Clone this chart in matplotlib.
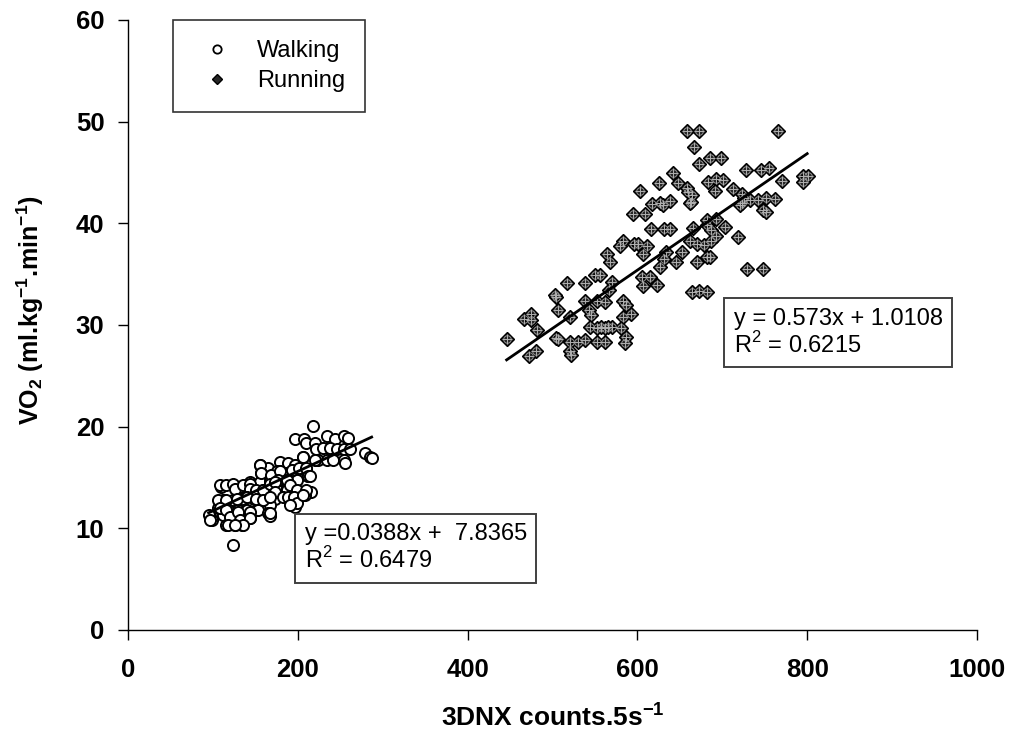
import matplotlib
matplotlib.use("Agg")
import matplotlib.pyplot as plt
from matplotlib.lines import Line2D
import numpy as np

plt.rcParams['font.family'] = ['Liberation Sans', 'DejaVu Sans']
plt.rcParams['mathtext.fontset'] = 'custom'
plt.rcParams['mathtext.rm'] = 'Liberation Sans'
plt.rcParams['mathtext.bf'] = 'Liberation Sans:bold'

# ---------------- data ----------------
walk_x = [218, 197, 207, 210, 220, 234, 244, 254, 259, 222, 230, 238, 246, 254, 261,
          224, 234, 242, 254, 256, 279, 285, 287, 206, 179, 189, 197, 155, 165,
          157, 175, 187, 199, 210, 212, 144, 155, 167, 179, 187, 199,
          110, 124, 132, 144, 159, 175, 187, 195, 216, 189, 199, 208,
          112, 124, 134, 148, 161, 173, 167, 193, 197,
          106, 118, 130, 140, 146, 153, 165, 167, 97, 99, 112, 124, 132, 144,
          116, 126, 134, 124,
          155, 206, 220, 157, 169, 179, 177, 187, 193, 202, 210, 212,
          108, 116, 124, 126, 136, 144, 144, 151, 159, 167, 173, 173, 187, 191, 199, 210, 214,
          106, 116, 128, 140, 151, 159, 167, 183, 189, 195, 199, 191, 206,
          95, 97, 108, 116, 120, 130, 132, 144, 144, 136, 118, 126, 167]
walk_y = [20.1, 18.8, 18.8, 18.4, 18.4, 19.1, 18.8, 19.1, 18.9, 17.8, 17.9, 17.9, 17.8, 17.8, 17.8,
          16.7, 16.7, 16.7, 16.7, 16.4, 17.4, 17.0, 16.9, 17.0, 16.5, 16.4, 16.2, 16.2, 15.9,
          15.4, 15.6, 15.4, 15.7, 15.8, 15.1, 14.6, 14.6, 14.7, 14.7, 14.6, 14.8,
          14.1, 14.3, 14.1, 13.9, 13.8, 13.8, 13.9, 13.8, 13.6, 13.1, 13.0, 13.3,
          12.8, 12.8, 12.9, 12.9, 12.9, 12.9, 12.3, 12.3, 12.1,
          12.0, 11.8, 11.8, 11.8, 11.6, 11.8, 11.5, 11.2, 11.1, 10.8, 11.3, 11.0, 11.0, 11.0,
          10.3, 10.3, 10.3, 8.4,
          16.2, 17.0, 16.7, 15.4, 15.2, 15.6, 14.8, 14.8, 15.7, 15.9, 15.9, 15.1,
          14.3, 14.3, 14.4, 13.9, 14.3, 14.4, 13.9, 13.8, 13.8, 14.4, 14.6, 13.6, 13.8, 14.3, 13.8, 13.8, 15.1,
          12.8, 12.8, 12.9, 13.1, 12.9, 12.8, 13.1, 13.1, 13.1, 13.1, 12.5, 12.3, 13.3,
          11.3, 10.8, 12.0, 11.8, 11.1, 11.6, 10.8, 11.6, 11.0, 10.3, 10.3, 10.3, 11.5]

run_x = [658, 673, 766, 667, 685, 699, 673, 642, 648, 625, 603, 658, 660, 664, 683, 693, 701, 691,
         728, 746, 755, 770, 795, 801, 795, 713, 723, 725, 733, 742, 752, 762, 721, 723, 748, 752,
         617, 627, 630, 638, 595, 609, 662, 682, 693, 616, 631, 638, 666, 682, 687, 703, 719,
         583, 580, 596, 601, 611, 607, 662, 670, 678, 687, 693, 564, 568, 634, 631, 646, 652,
         670, 682, 686, 729, 748, 550, 556, 570, 566, 605, 615, 607, 623, 627, 664, 672, 682,
         517, 538, 504, 507, 538, 552, 562, 583, 587, 593, 583, 543, 545, 521, 466, 475, 475,
         482, 446, 504, 507, 521, 530, 538, 552, 562, 544, 552, 562, 570, 581, 587, 585,
         521, 522, 472, 481, 557, 565, 503, 663]
run_y = [49.1, 49.1, 49.1, 47.5, 46.4, 46.4, 45.8, 44.9, 44.0, 44.0, 43.2, 43.5, 43.1, 42.8, 44.1, 44.4, 44.3, 43.2,
         45.2, 45.2, 45.4, 44.2, 44.7, 44.7, 44.1, 43.4, 42.9, 42.5, 42.3, 42.3, 42.5, 42.4, 41.8, 42.0, 41.3, 41.1,
         41.9, 42.0, 41.8, 42.2, 40.9, 40.9, 42.0, 40.3, 40.4, 39.4, 39.4, 39.4, 39.5, 39.8, 39.3, 39.6, 38.7,
         38.3, 37.8, 38.0, 38.0, 37.8, 37.0, 38.3, 38.0, 37.9, 38.3, 38.8, 37.0, 36.2, 37.2, 36.5, 36.2, 37.2,
         36.2, 36.7, 36.7, 35.5, 35.5, 34.9, 34.9, 34.2, 33.4, 34.7, 34.7, 33.8, 33.9, 35.7, 33.2, 33.3, 33.2,
         34.1, 34.1, 32.8, 31.5, 32.4, 32.4, 32.3, 32.4, 32.0, 31.1, 30.8, 31.5, 31.0, 30.8, 30.6, 31.1, 30.5,
         29.5, 28.6, 28.7, 28.6, 28.3, 28.3, 28.5, 28.3, 28.3, 29.8, 29.7, 29.7, 29.8, 29.7, 28.8, 28.2,
         27.4, 27.0, 26.9, 27.4, 29.8, 29.8, 32.9, 42.1]

# trend lines as labelled on the chart (x range of each fit)
walk_fit = dict(slope=0.0388, intercept=7.8365, x0=95, x1=287)
run_fit = dict(slope=0.0573, intercept=1.0108, x0=446, x1=800)
walk_eq = "y =0.0388x +  7.8365\nR$^2$ = 0.6479"
run_eq = "y = 0.573x + 1.0108\nR$^2$ = 0.6215"

x_ticks = [0, 200, 400, 600, 800, 1000]
y_ticks = [0, 10, 20, 30, 40, 50, 60]

# ---------------- figure ----------------
fig = plt.figure(figsize=(10.14, 7.45), dpi=100)
ax = fig.add_axes([0.1262, 0.1544, 0.8373, 0.8188])

# walking
ax.plot(walk_x, walk_y, linestyle='none', marker='o', ms=8, mfc='white',
        mec='black', mew=1.4, zorder=3)
# running
ax.plot(run_x, run_y, linestyle='none', marker='D', ms=7.2, mfc='#262626',
        mec='black', mew=1.0, zorder=3)
ax.plot(run_x, run_y, linestyle='none', marker='o', ms=5.4, mfc='none',
        mec='#9a9a9a', mew=0.6, zorder=4)
ax.plot(run_x, run_y, linestyle='none', marker='+', ms=7.0, mec='#b0b0b0',
        mew=0.7, zorder=4)

for f in (walk_fit, run_fit):
    xs = np.array([f['x0'], f['x1']])
    ax.plot(xs, f['slope'] * xs + f['intercept'], color='black', lw=2.0, zorder=5)

ax.set_xlim(0, 1000)
ax.set_ylim(0, 60)
ax.set_xticks(x_ticks)
ax.set_yticks(y_ticks)
ax.tick_params(direction='out', length=7, width=1, labelsize=18.5, pad=10)
for lab in ax.get_xticklabels() + ax.get_yticklabels():
    lab.set_fontweight('bold')
ax.tick_params(axis='x', pad=13)
for s in ('top', 'right'):
    ax.spines[s].set_visible(False)
for s in ('left', 'bottom'):
    ax.spines[s].set_linewidth(1.0)

ax.set_xlabel(r"3DNX counts.5s$^{\mathbf{-1}}$", fontsize=19, fontweight='bold', labelpad=15)
ax.set_ylabel(r"VO$_{\mathbf{2}}$ (ml.kg$^{\mathbf{-1}}$.min$^{\mathbf{-1}}$)",
              fontsize=18, fontweight='bold')
ax.yaxis.set_label_coords(-0.096, 0.525)

# equation boxes
box = dict(boxstyle='square,pad=0.4', facecolor='white', edgecolor='#404040', lw=1.4)
ax.text(0.7135, 0.5285, run_eq, transform=ax.transAxes, fontsize=17, va='top',
        ha='left', linespacing=1.1, bbox=box, zorder=6)
ax.text(0.2080, 0.1750, walk_eq, transform=ax.transAxes, fontsize=17, va='top',
        ha='left', linespacing=1.1, bbox=box, zorder=6)

# legend
h_walk = Line2D([], [], linestyle='none', marker='o', ms=6, mfc='white', mec='black', mew=1.3)
h_run = Line2D([], [], linestyle='none', marker='D', ms=5.2, mfc='#262626', mec='black', mew=1.0)
leg = ax.legend([h_walk, h_run], ['Walking', 'Running'], loc='upper left',
                bbox_to_anchor=(0.053, 1.0), borderaxespad=0, fontsize=17,
                frameon=True, fancybox=False, edgecolor='black', handletextpad=0.7,
                borderpad=0.85, labelspacing=0.35, handlelength=2.0)
leg.get_frame().set_linewidth(1.2)

fig.savefig("out.png", dpi=100)
